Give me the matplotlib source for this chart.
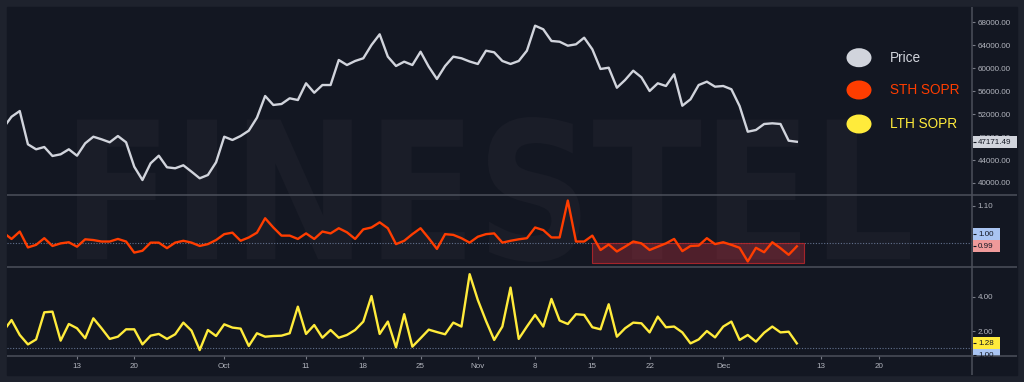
import matplotlib
matplotlib.use('Agg')
import matplotlib.pyplot as plt
import matplotlib.dates as mdates
from matplotlib.patches import Rectangle, Ellipse, PathPatch
from matplotlib.textpath import TextPath
from matplotlib.font_manager import FontProperties
from matplotlib.transforms import Affine2D
import pandas as pd

plt.rcParams['font.family'] = ['Liberation Sans', 'DejaVu Sans']

# daily closes, Sep 4 .. Dec 10 2021
dates = pd.date_range('2021-09-04', '2021-12-10', freq='D')

price = [49600, 51530, 52520, 46730, 45860, 46260, 44700, 44990, 45860, 44750,
         46900, 48050, 47600, 47080, 48170, 47080, 42830, 40520, 43430, 44750,
         42730, 42560, 43080, 41970, 40820, 41390, 43600,
         48050, 47480, 48170, 49100, 51360, 55130, 53570, 53740, 54730, 54430,
         57340, 55700, 57040, 57040, 61390, 60520, 61220, 61690, 64000, 65860,
         61970, 60350, 61100, 60520, 62830, 60230, 58090, 60350, 61970, 61690, 61130,
         60700, 63010, 62730, 61220, 60700, 61220, 63010, 67360, 66730, 64700,
         64570, 63880, 64120, 65270, 63250, 59830, 60050, 56570, 57910, 59530,
         58380, 56000, 57340, 56870, 58900, 53440, 54560, 57040, 57620, 56750,
         56870, 56300, 53390, 48920, 49220, 50260, 50380, 50260, 47360, 47171.49]

sth_sopr = [1.027, 1.010, 1.030, 0.987, 0.994, 1.012, 0.991, 0.998, 1.001, 0.989,
            1.009, 1.007, 1.003, 1.003, 1.010, 1.003, 0.973, 0.978, 1.000, 1.000,
            0.985, 1.000, 1.005, 1.000, 0.991, 0.996, 1.007,
            1.023, 1.027, 1.005, 1.014, 1.027, 1.066, 1.041, 1.019, 1.019, 1.010,
            1.025, 1.010, 1.030, 1.025, 1.039, 1.028, 1.010, 1.036, 1.041, 1.055,
            1.039, 0.996, 1.005, 1.023, 1.039, 1.012, 0.983, 1.023, 1.021, 1.012, 1.000,
            1.016, 1.023, 1.025, 1.000, 1.005, 1.009, 1.012, 1.041, 1.034, 1.014,
            1.014, 1.114, 1.003, 1.003, 1.019, 0.980, 0.995, 0.976, 0.989, 1.003,
            0.998, 0.980, 0.989, 0.998, 1.010, 0.977, 0.991, 0.992, 1.012, 0.996,
            1.001, 0.994, 0.986, 0.949, 0.986, 0.974, 1.001, 0.985, 0.967, 0.990]

lth_sopr = [2.00, 2.64, 1.77, 1.22, 1.51, 3.09, 3.13, 1.44, 2.41, 2.16,
            1.58, 2.74, 2.16, 1.54, 1.67, 2.10, 2.10, 1.22, 1.73, 1.83,
            1.54, 1.81, 2.49, 2.02, 0.89, 2.06, 1.71,
            2.39, 2.20, 2.14, 1.13, 1.87, 1.67, 1.71, 1.73, 1.87, 3.42,
            1.83, 2.35, 1.61, 2.06, 1.61, 1.77, 2.06, 2.55, 4.04, 1.83,
            2.55, 1.05, 2.98, 1.09, 1.58, 2.08, 1.94, 1.81, 2.49, 2.26, 5.31,
            3.81, 2.59, 1.48, 2.26, 4.53, 1.54, 2.26, 2.94, 2.26, 3.87,
            2.61, 2.41, 2.98, 2.94, 2.22, 2.10, 3.56, 1.67, 2.16, 2.49,
            2.45, 1.92, 2.84, 2.22, 2.26, 1.92, 1.28, 1.51, 2.00, 1.63,
            2.26, 2.55, 1.48, 1.77, 1.38, 1.90, 2.26, 1.92, 1.96, 1.28]

price_ticks = [40000, 44000, 48000, 52000, 56000, 60000, 64000, 68000]
sth_ticks = [1.10]
lth_ticks = [2.00, 4.00]
date_ticks = ['2021-09-13', '2021-09-20', '2021-10-01', '2021-10-11', '2021-10-18',
              '2021-10-25', '2021-11-01', '2021-11-08', '2021-11-15', '2021-11-22',
              '2021-12-01', '2021-12-13', '2021-12-20']
date_labels = ['13', '20', 'Oct', '11', '18', '25', 'Nov', '8', '15', '22', 'Dec', '13', '20']
legend_labels = ['Price', 'STH SOPR', 'LTH SOPR']

PRICE_C = '#d1d4dc'
STH_C = '#ff3d00'
LTH_C = '#ffeb3b'
BG = '#131722'
FRAME = '#1e222d'
SEP = '#4c505b'
LABEL_C = '#b2b5be'

W, H = 1024, 382
fig = plt.figure(figsize=(W / 100, H / 100), dpi=100)
fig.patch.set_facecolor(FRAME)


def px_box(x0, y0, x1, y1):
    return [x0 / W, 1 - y1 / H, (x1 - x0) / W, (y1 - y0) / H]


# background + watermark
bg = fig.add_axes([0, 0, 1, 1], zorder=0)
bg.set_xlim(0, W)
bg.set_ylim(H, 0)
bg.axis('off')
bg.add_patch(Rectangle((7, 7), 1010, 368, color=BG))
tp = TextPath((0, 0), 'FINESTEL', size=100, prop=FontProperties(family='DejaVu Sans', weight='bold'))
ext = tp.get_extents()
tr = Affine2D().translate(-ext.x0, -ext.y0).scale(833 / ext.width, -145 / ext.height).translate(77, 262)
bg.add_patch(PathPatch(tr.transform_path(tp), facecolor='#1a1d28', edgecolor='none'))

# panels
ax1 = fig.add_axes(px_box(7, 7, 972, 195), zorder=1)
ax2 = fig.add_axes(px_box(7, 195, 972, 267), zorder=1, sharex=ax1)
ax3 = fig.add_axes(px_box(7, 267, 972, 356), zorder=1, sharex=ax1)

x = mdates.date2num(dates)
ax1.plot(x, price, color=PRICE_C, lw=1.7, solid_joinstyle='round')
ax2.plot(x, sth_sopr, color=STH_C, lw=1.7, solid_joinstyle='round')
ax3.plot(x, lth_sopr, color=LTH_C, lw=1.7, solid_joinstyle='round')

for ax in (ax2, ax3):
    ax.axhline(1.0, color='#6a7a98', lw=0.8, ls=(0, (1, 1.5)), alpha=0.9, zorder=0)

# highlighted zone on STH SOPR
x_box0 = mdates.date2num(pd.Timestamp('2021-11-15'))
x_box1 = mdates.date2num(pd.Timestamp('2021-12-10 20:00'))
ax2.add_patch(Rectangle((x_box0, 0.946), x_box1 - x_box0, 0.054,
                        facecolor=(0.95, 0.21, 0.27, 0.27), edgecolor=(0.7, 0.15, 0.17, 0.9), lw=0.8))

d13 = mdates.date2num(pd.Timestamp('2021-09-13'))
ax1.set_xlim(d13 - 70 / 8.18, d13 + 895 / 8.18)
ax1.set_ylim(37913, 70609)
ax2.set_ylim(0.934, 1.129)
ax3.set_ylim(0.545, 5.73)

for ax, ticks in ((ax1, price_ticks), (ax2, sth_ticks), (ax3, lth_ticks)):
    ax.set_facecolor('none')
    for s in ax.spines.values():
        s.set_visible(False)
    ax.yaxis.tick_right()
    ax.set_yticks(ticks)
    ax.set_yticklabels([f'{t:.2f}' for t in ticks])
    ax.tick_params(axis='y', length=2.2, width=0.8, pad=2, color='#787b86',
                   labelsize=5.8, labelcolor=LABEL_C)
    ax.tick_params(axis='x', bottom=False, labelbottom=False)

ax3.set_xticks([mdates.date2num(pd.Timestamp(d)) for d in date_ticks])
ax3.set_xticklabels(date_labels)
ax3.tick_params(axis='x', bottom=True, labelbottom=True, length=2, width=0.8,
                color='#787b86', pad=3.2, labelsize=5.8, labelcolor=LABEL_C)

# overlay: separators, value labels, legend (pixel coordinates)
fg = fig.add_axes([0, 0, 1, 1], zorder=3)
fg.set_xlim(0, W)
fg.set_ylim(H, 0)
fg.axis('off')
fg.set_facecolor('none')
fg.hlines([195, 267, 356], 7, 1017, color=SEP, lw=1.1)
fg.vlines(972, 7, 375, color=SEP, lw=1.1)


def to_px(ax, v):
    return H - ax.transData.transform((x[-1], v))[1]


def value_box(ax, v, text, color, dy=0, x1=1000, clip=None):
    py = to_px(ax, v) + dy
    r = Rectangle((972.5, py - 6), x1 - 972.5, 12, facecolor=color, edgecolor='none')
    fg.add_patch(r)
    fg.hlines(py, 972.5, 975.5, color=BG, lw=0.8)
    t = fg.text(978, py + 0.3, text, color=BG, fontsize=5.8, ha='left', va='center')
    if clip is not None:
        cp = Rectangle((clip[0], clip[1]), clip[2], clip[3], transform=fg.transData)
        r.set_clip_path(cp)
        t.set_clip_path(cp)


value_box(ax1, price[-1], f'{price[-1]:.2f}', PRICE_C, x1=1016.5)
value_box(ax2, sth_sopr[-1], f'{sth_sopr[-1]:.2f}', '#ef9a9a')
value_box(ax2, sth_sopr[-1], '1.00', '#a9c4f2', dy=-12)
value_box(ax3, lth_sopr[-1], f'{lth_sopr[-1]:.2f}', '#ffeb3b')
value_box(ax3, lth_sopr[-1], '1.00', '#a9c4f2', dy=12, clip=(970, 267, 50, 88.5))

legend_colors = [PRICE_C, STH_C, LTH_C]
legend_y = [57.7, 90, 124]
for lab, c, yy in zip(legend_labels, legend_colors, legend_y):
    fg.add_patch(Ellipse((859, yy), 25, 19, facecolor=c, edgecolor='none'))
    fg.text(890, yy + 0.5, lab, color=c, fontsize=9.8, ha='left', va='center')

fig.savefig('out.png', dpi=100, facecolor=fig.get_facecolor())
